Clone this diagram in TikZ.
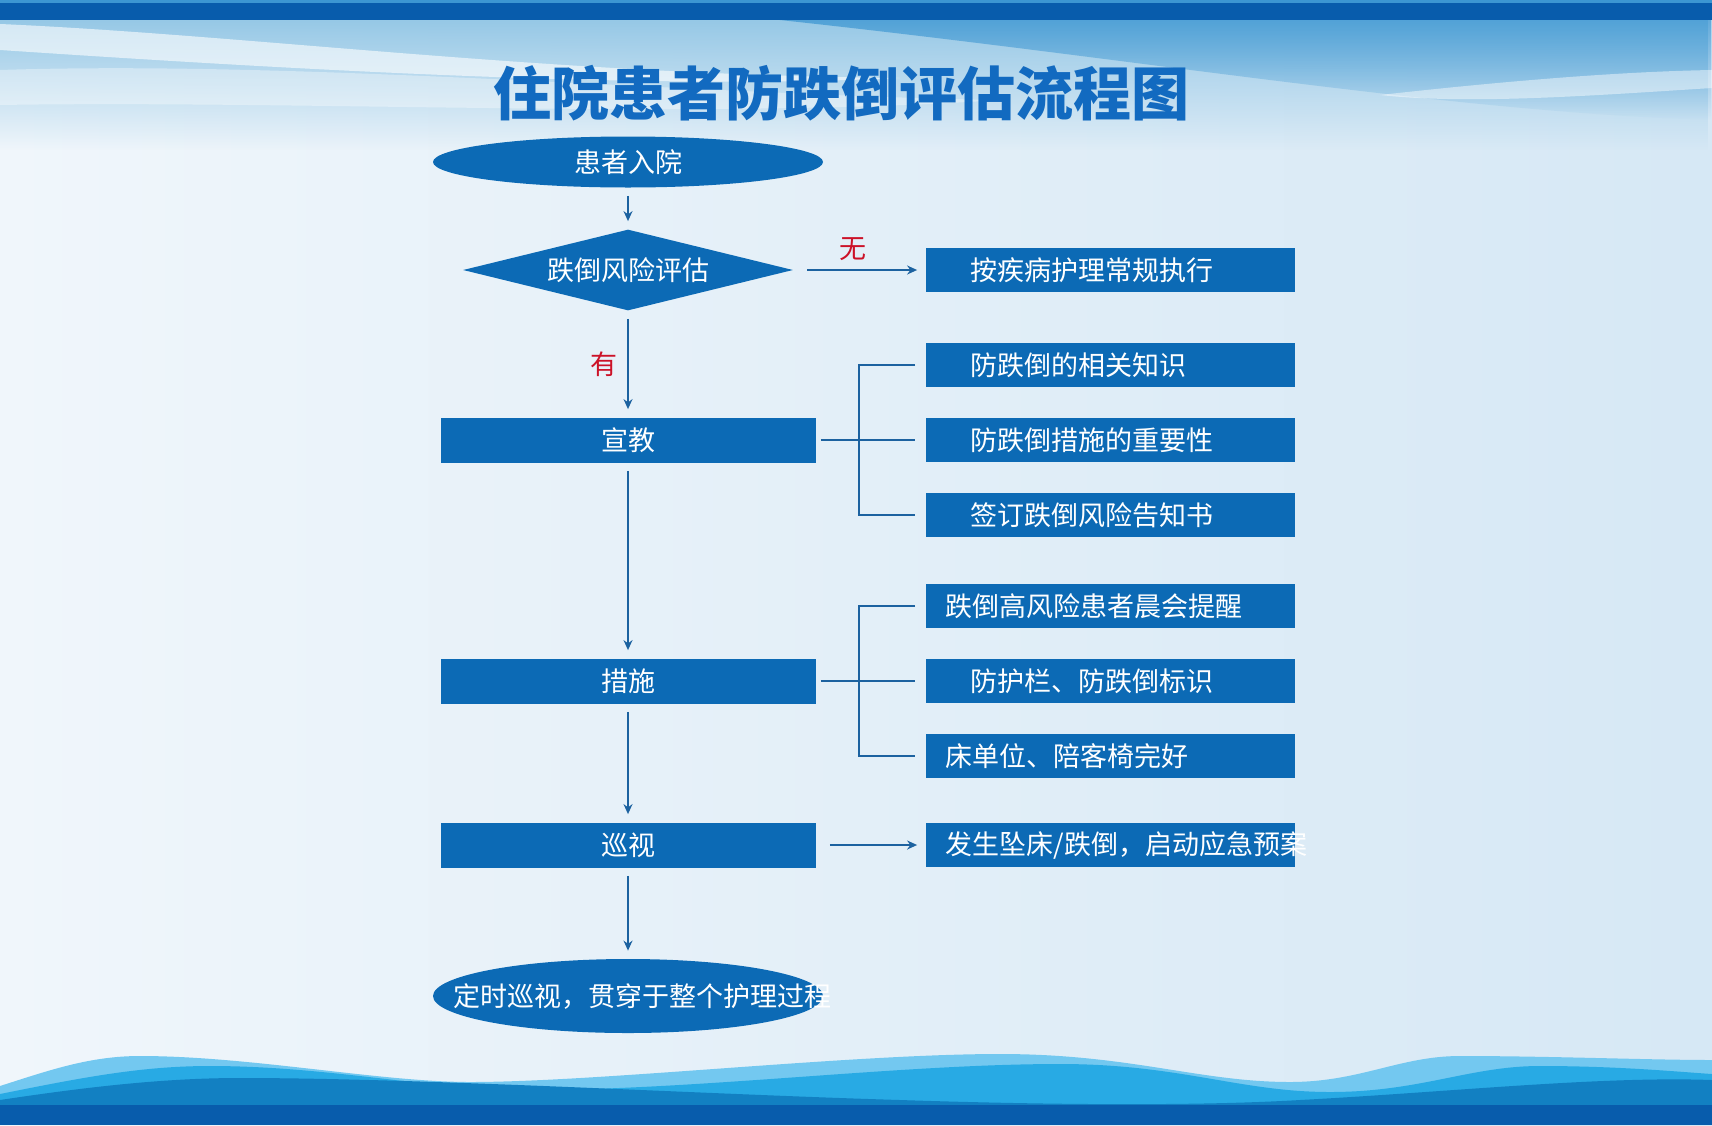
\documentclass[tikz,border=0pt]{standalone}
\usepackage{fontspec}
\setmainfont{Noto Sans CJK SC}
\usetikzlibrary{shapes.geometric, arrows.meta, positioning, calc, fadings}
\definecolor{boxblue}{RGB}{12,106,181}
\definecolor{lineblue}{RGB}{28,98,160}
\definecolor{titleblue}{RGB}{18,106,192}
\definecolor{bandblue}{RGB}{8,92,172}
\definecolor{tagred}{RGB}{204,18,40}
\definecolor{bgleft}{RGB}{240,246,251}
\definecolor{bgright}{RGB}{214,232,245}
\definecolor{skyblue}{RGB}{150,200,230}
\definecolor{topblue}{RGB}{60,150,210}
\definecolor{wavelight}{RGB}{115,200,240}
\definecolor{wavemid}{RGB}{40,170,228}
\definecolor{wavedark}{RGB}{18,128,194}

\begin{document}
\begin{tikzpicture}[x=0.5pt, y=-0.5pt, >={Stealth[length=5pt, width=4.5pt]}]
\tikzset{
    mainbox/.style={rectangle, fill=boxblue, text=white, minimum width=187.5pt, minimum height=22.5pt, inner sep=0pt, font=\fontsize{13.5}{16}\selectfont},
    subbox/.style={mainbox, minimum width=184.5pt, minimum height=22pt, inner xsep=10pt, text width=164.5pt, align=left},
    subin/.style={subbox, inner xsep=22.5pt, text width=139.5pt},
    oval/.style={ellipse, fill=boxblue, text=white, inner sep=0pt, minimum width=195pt, font=\fontsize{13.5}{16}\selectfont},
    decision/.style={diamond, aspect=4, fill=boxblue, text=white, inner sep=0pt, minimum width=165pt, minimum height=40.5pt, font=\fontsize{13.5}{16}\selectfont},
    line/.style={->, draw=lineblue, line width=1pt, shorten <=4pt, shorten >=4pt},
    link/.style={draw=lineblue, line width=1pt},
    tag/.style={text=tagred, font=\fontsize{13.5}{16}\selectfont}
}
\useasboundingbox (0,0) rectangle (1712,1125);

% --- Background ---
\fill[left color=bgleft, right color=bgright] (0,0) rectangle (1712,1125);
\fill[skyblue, path fading=south] (0,20) rectangle (1712,150);
\fill[topblue, opacity=0.75, path fading=south] (780,20) -- (1712,20) -- (1712,120) .. controls (1450,112) and (1150,60) .. (780,20) -- cycle;
\fill[white, opacity=0.6] (0,24) .. controls (250,35) and (550,75) .. (900,78) .. controls (650,90) and (300,70) .. (0,50) -- cycle;
\fill[white, opacity=0.35] (0,70) .. controls (300,60) and (700,95) .. (1000,100) .. controls (700,120) and (300,100) .. (0,105) -- cycle;
\fill[white, opacity=0.45] (1380,95) .. controls (1470,85) and (1600,72) .. (1712,70) -- (1712,88) .. controls (1600,95) and (1470,105) .. (1380,95) -- cycle;
\fill[bandblue] (0,0) rectangle (1712,20);
\fill[topblue] (0,0) rectangle (1712,3);
\fill[wavelight] (0,1086) .. controls (50,1070) and (90,1056) .. (140,1056) .. controls (250,1056) and (380,1082) .. (470,1082) .. controls (600,1082) and (850,1054) .. (1000,1054) .. controls (1130,1054) and (1200,1082) .. (1290,1082) .. controls (1360,1082) and (1400,1056) .. (1460,1056) .. controls (1550,1056) and (1650,1060) .. (1712,1060) -- (1712,1105) -- (0,1105) -- cycle;
\fill[wavemid] (0,1094) .. controls (80,1078) and (140,1066) .. (210,1066) .. controls (330,1066) and (430,1090) .. (530,1090) .. controls (700,1090) and (900,1064) .. (1060,1064) .. controls (1180,1064) and (1240,1092) .. (1330,1092) .. controls (1420,1092) and (1470,1066) .. (1540,1066) .. controls (1620,1066) and (1680,1072) .. (1712,1074) -- (1712,1105) -- (0,1105) -- cycle;
\fill[wavedark] (0,1100) .. controls (80,1088) and (160,1078) .. (240,1078) .. controls (420,1078) and (700,1094) .. (900,1100) .. controls (1050,1105) and (1200,1106) .. (1300,1100) .. controls (1450,1092) and (1600,1076) .. (1712,1080) -- (1712,1105) -- (0,1105) -- cycle;
\fill[bandblue] (0,1105) rectangle (1712,1125);

% --- Title ---
\node (title) at (841,93) [text=titleblue, font=\fontsize{29}{34}\selectfont\bfseries] {住院患者防跌倒评估流程图};

% --- Main flow ---
\node (admit) at (628,162) [oval, minimum height=25.5pt] {患者入院};
\node (assess) at (628,270) [decision] {跌倒风险评估};
\node (edu) at (628,440) [mainbox] {宣教};
\node (care) at (628,681) [mainbox] {措施};
\node (patrol) at (628,845) [mainbox] {巡视};
\node (always) at (628,996) [oval, minimum height=37pt] {\makebox[0pt]{\hspace*{14pt}定时巡视，贯穿于整个护理过程}};

% --- Right side ---
\node (normal) at (1110,270) [subin] {按疾病护理常规执行};
\node (edu1) at (1110,365) [subin] {防跌倒的相关知识};
\node (edu2) at (1110,440) [subin] {防跌倒措施的重要性};
\node (edu3) at (1110,515) [subin] {签订跌倒风险告知书};
\node (care1) at (1110,606) [subbox] {跌倒高风险患者晨会提醒};
\node (care2) at (1110,681) [subin] {防护栏、防跌倒标识};
\node (care3) at (1110,756) [subbox] {床单位、陪客椅完好};
\node (alarm) at (1110,845) [subbox] {发生坠床/跌倒，启动应急预案};

% Arrows
\draw[line] (admit) -- (assess);
\draw[line, shorten <=7pt] (assess) -- (normal) node[tag, midway, above=1pt, xshift=-3pt] {无};
\draw[line] (assess) -- (edu) node[tag, midway, left=1.5pt] {有};
\draw[line] (edu) -- (care);
\draw[line] (care) -- (patrol);
\draw[line] (patrol) -- (always);
\draw[line, shorten <=7pt] (patrol) -- (alarm);

% Brackets
\draw[link, shorten <=2.5pt, shorten >=5pt] (edu) -- (edu2);
\draw[link, shorten <=5pt, shorten >=5pt] (edu1.west) -- ++(-33pt,0) |- (edu3.west);
\draw[link, shorten <=2.5pt, shorten >=5pt] (care) -- (care2);
\draw[link, shorten <=5pt, shorten >=5pt] (care1.west) -- ++(-33pt,0) |- (care3.west);

\end{tikzpicture}
\end{document}
